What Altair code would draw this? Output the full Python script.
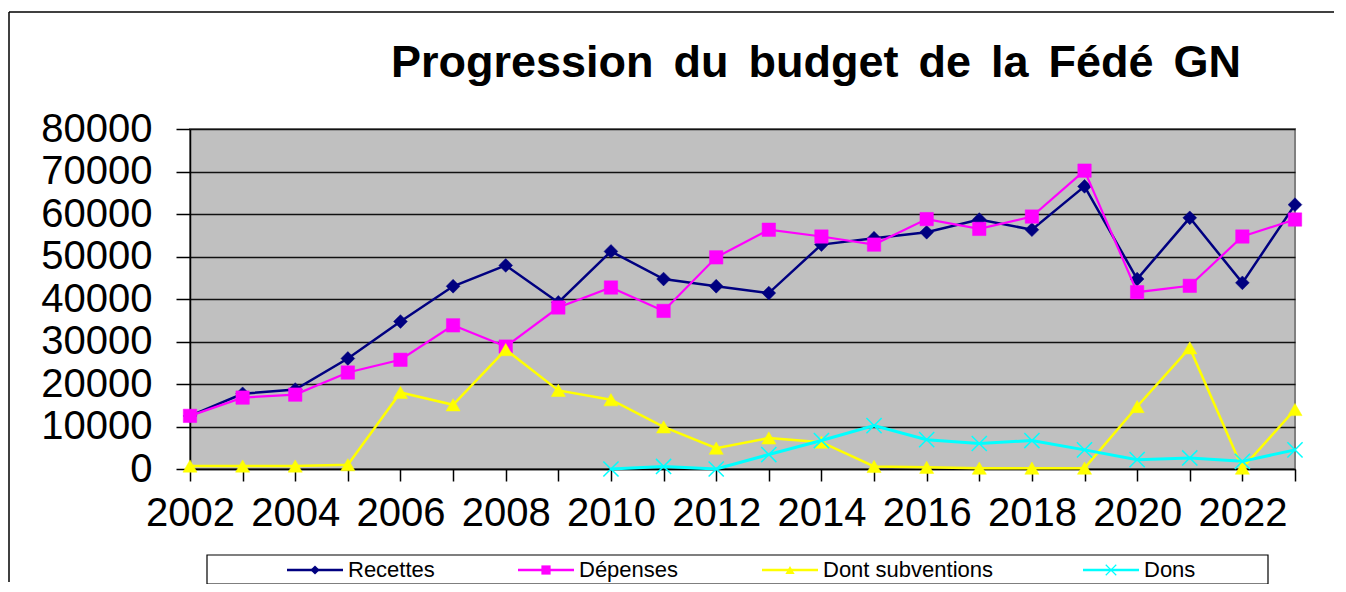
import altair as alt
import pandas as pd

# ---- data ----
years = list(range(2002, 2024))
recettes = [12500, 17700, 18700, 26000, 34700, 43000, 47900, 39200, 51200, 44700, 43000,
            41400, 52800, 54300, 55700, 58700, 56300, 66500, 44700, 59100, 43800, 62200]
depenses = [12500, 16800, 17500, 22700, 25700, 33800, 28800, 38000, 42700, 37200, 49800,
            56300, 54700, 52800, 58800, 56500, 59400, 70200, 41600, 43100, 54700, 58700]
subventions = [700, 700, 700, 1000, 18000, 15100, 28100, 18500, 16300, 9900, 4900,
               7300, 6300, 600, 400, 200, 200, 200, 14700, 28500, 200, 14000]
dons_years = list(range(2010, 2024))
dons = [0, 600, 0, 3400, 6700, 10200, 6900, 6000, 6700, 4500, 2200, 2600, 1800, 4500]

series_names = ["Recettes", "Dépenses", "Dont subventions", "Dons"]
series_colors = ["#000080", "#FF00FF", "#FFFF00", "#00FFFF"]
series_shapes = ["diamond", "square", "triangle-up", "M-1,-1L1,1M-1,1L1,-1"]
series_filled = [True, True, True, False]
series_width = [2.5, 2.2, 2.5, 3]
series_msize = [190, 180, 200, 230]
y_ticks = list(range(0, 80001, 10000))
SP = "\u00a0\u2006"
title_text = SP.join(["Progression", "du", "budget", "de", "la", "Fédé", "GN"])

# ---- layout (plot origin at page 190,129) ----
W, H = 1105, 340
FONT = "Liberation Sans"
legend_x = [287, 518, 762, 1083]  # page x of legend line starts
OX, OY = 190, 129
FRAME_R, FRAME_B = 1334, 582

frames = []
for name, ys, xs in [(series_names[0], recettes, years), (series_names[1], depenses, years),
                     (series_names[2], subventions, years), (series_names[3], dons, dons_years)]:
    frames.append(pd.DataFrame({"year": xs, "value": ys, "series": name}))
df = pd.concat(frames, ignore_index=True)

x_enc = alt.X("year:Q", scale=alt.Scale(domain=[2002, 2023], nice=False, zero=False),
              axis=alt.Axis(values=years, format="d", title=None,
                            labelExpr="datum.value % 2 == 0 ? datum.label : ''",
                            labelFont=FONT, labelFontSize=40, labelColor="black",
                            labelOverlap=False, labelFlush=False, labelPadding=12,
                            tickSize=12, tickColor="black", tickWidth=1.5,
                            domainColor="black", domainWidth=1.5, grid=False))
y_enc = alt.Y("value:Q", scale=alt.Scale(domain=[0, 80000], nice=False),
              axis=alt.Axis(values=y_ticks, format="d", title=None,
                            labelFont=FONT, labelFontSize=40, labelColor="black",
                            labelPadding=24, tickSize=14, tickColor="black", tickWidth=1.5,
                            domainColor="black", domainWidth=1.5,
                            grid=True, gridColor="#111111", gridWidth=1.3))

one = pd.DataFrame({"k": [0]})

layers = []
# outer frame: only its left and top edges are visible in the reference
layers.append(alt.Chart(one).mark_rule(color="black", strokeWidth=1.5).encode(
    x=alt.value(9 - OX), y=alt.value(12 - OY), y2=alt.value(FRAME_B - OY)))
layers.append(alt.Chart(one).mark_rule(color="black", strokeWidth=1.5).encode(
    x=alt.value(9 - OX), x2=alt.value(FRAME_R - OX), y=alt.value(12 - OY)))
# title
layers.append(alt.Chart(one).mark_text(text=title_text, font=FONT, fontSize=45, fontWeight="bold",
                                       align="center", baseline="alphabetic", color="black").encode(
    x=alt.value(816 - OX), y=alt.value(77 - OY)))

for i, name in enumerate(series_names):
    d = df[df.series == name]
    base = alt.Chart(d)
    layers.append(base.mark_line(color=series_colors[i], strokeWidth=series_width[i]).encode(
        x=x_enc, y=y_enc))
    if series_filled[i]:
        pm = base.mark_point(shape=series_shapes[i], filled=True, fill=series_colors[i],
                             stroke=series_colors[i], strokeWidth=0.5, opacity=1,
                             size=series_msize[i])
    else:
        pm = base.mark_point(shape=series_shapes[i], filled=False, stroke=series_colors[i],
                             strokeWidth=1.5, opacity=1, size=series_msize[i])
    layers.append(pm.encode(x=x_enc, y=y_enc))

# legend box
LY = 570 - OY
layers.append(alt.Chart(one).mark_rect(fill="white", stroke="black", strokeWidth=1.2).encode(
    x=alt.value(207 - OX), y=alt.value(555 - OY), x2=alt.value(1268 - OX), y2=alt.value(584 - OY)))
for i, name in enumerate(series_names):
    lx = legend_x[i] - OX
    layers.append(alt.Chart(one).mark_rule(color=series_colors[i], strokeWidth=2.5).encode(
        x=alt.value(lx), x2=alt.value(lx + 56), y=alt.value(LY)))
    if series_filled[i]:
        pm = alt.Chart(one).mark_point(shape=series_shapes[i], filled=True, fill=series_colors[i],
                                       opacity=1, size=85)
    else:
        pm = alt.Chart(one).mark_point(shape=series_shapes[i], filled=False, stroke=series_colors[i],
                                       strokeWidth=1.2, opacity=1, size=110)
    layers.append(pm.encode(x=alt.value(lx + 28), y=alt.value(LY)))
    layers.append(alt.Chart(one).mark_text(text=name, font=FONT, fontSize=22, align="left",
                                           baseline="middle", color="black").encode(
        x=alt.value(lx + 61), y=alt.value(LY)))

chart = alt.layer(*layers).properties(
    width=W, height=H,
    autosize=alt.AutoSizeParams(type="none"),
    padding={"left": 182, "top": 121, "right": 43, "bottom": 115},
    background="white",
).configure_view(fill="#C0C0C0", stroke="#808080", strokeWidth=2)

chart.save("out.html", embed_options={"renderer": "svg", "actions": False})
